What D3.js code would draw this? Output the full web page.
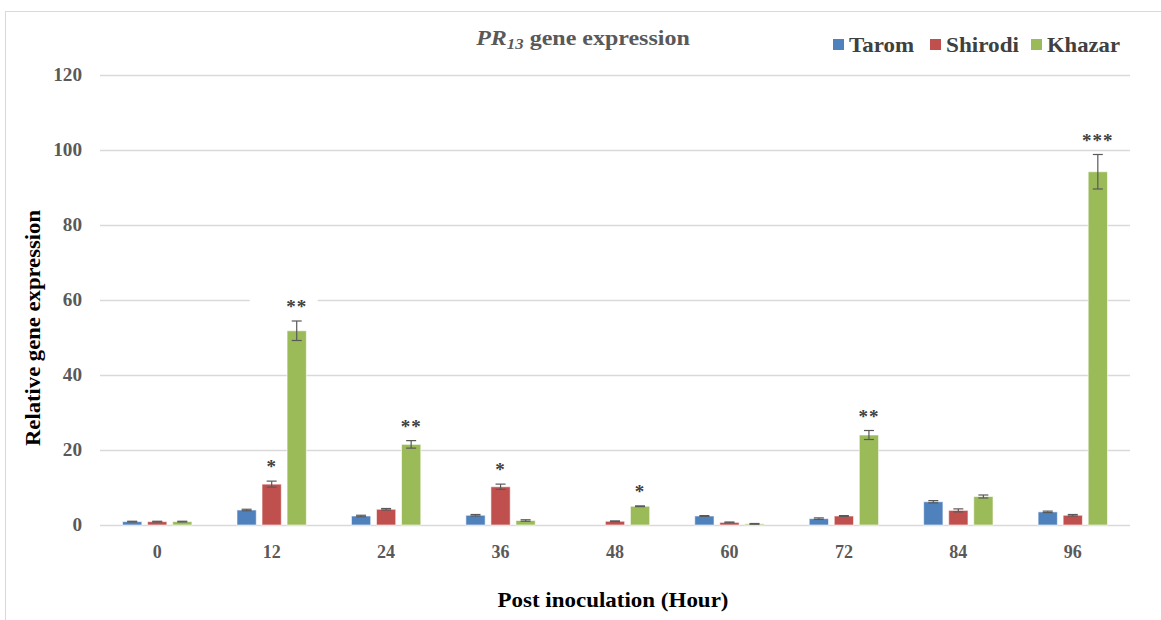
<!DOCTYPE html>
<html lang="en">
<head>
  <meta charset="UTF-8" />
  <title>PR13 gene expression</title>
  <script src="https://d3js.org/d3.v7.min.js"></script>
  <style>
    body { margin:0; padding:0; background:#fff; }
    svg { display:block; font-family:"Liberation Serif", "DejaVu Serif", serif; }
  </style>
</head>
<body>
  <svg width="1161" height="620"></svg>

  <script>
  // chart data
  const hours    = ["0", "12", "24", "36", "48", "60", "72", "84", "96"];
  const cultivars = ["Tarom", "Shirodi", "Khazar"];
  const colors   = ["#4f81bd", "#c0504d", "#9bbb59"];

  const tarom    = [0.9, 4.0, 2.4, 2.6, 0.0, 2.4, 1.7, 6.2, 3.5];
  const shirodi  = [0.9, 10.9, 4.2, 10.2, 1.0, 0.7, 2.4, 3.9, 2.6];
  const khazar   = [0.9, 51.8, 21.5, 1.2, 5.0, 0.3, 24.0, 7.6, 94.2];

  const taromErr   = [0.1, 0.2, 0.2, 0.2, 0.0, 0.1, 0.2, 0.3, 0.2];
  const shirodiErr = [0.1, 0.8, 0.2, 0.7, 0.1, 0.1, 0.1, 0.4, 0.2];
  const khazarErr  = [0.1, 2.6, 1.0, 0.2, 0.1, 0.1, 1.2, 0.4, 4.6];

  // significance marks: [hour index, series index, label]
  const stars = [[1, 1, "*"], [1, 2, "**"], [2, 2, "**"], [3, 1, "*"], [4, 2, "*"], [6, 2, "**"], [8, 2, "***"]];

  const yTicks = [0, 20, 40, 60, 80, 100, 120];

  const series = [tarom, shirodi, khazar];
  const errs   = [taromErr, shirodiErr, khazarErr];

  const svg = d3.select("svg");
  const W = 1161, H = 620;
  const M = { left: 100, right: 31, top: 75, bottom: 95 };

  // outer frame
  svg.append("rect")
    .attr("x", 5.5).attr("y", 11.5)
    .attr("width", 1200).attr("height", 700)
    .attr("fill", "#fff").attr("stroke", "#d9d9d9");

  const x = d3.scaleBand()
    .domain(hours)
    .range([M.left, W - M.right]);

  const xInner = d3.scaleBand()
    .domain(cultivars)
    .range([0, x.bandwidth()])
    .paddingInner(0.23)
    .paddingOuter(0.9);

  const y = d3.scaleLinear()
    .domain([0, 120])
    .range([H - M.bottom, M.top]);

  // gridlines
  svg.append("g")
    .selectAll("line")
    .data(yTicks)
    .join("line")
      .attr("x1", M.left).attr("x2", W - M.right)
      .attr("y1", d => Math.round(y(d)) + 0.5)
      .attr("y2", d => Math.round(y(d)) + 0.5)
      .attr("stroke", "#d9d9d9")
      .attr("stroke-width", 1.3);

  // y tick labels
  svg.append("g")
    .selectAll("text")
    .data(yTicks)
    .join("text")
      .attr("x", 82)
      .attr("y", d => y(d))
      .attr("dy", "0.35em")
      .attr("text-anchor", "end")
      .attr("font-size", 18)
      .attr("font-weight", "bold")
      .attr("fill", "#595959")
      .attr("textLength", d => String(d).length * 9.6)
      .attr("lengthAdjust", "spacingAndGlyphs")
      .text(d => d);

  // x tick labels
  svg.append("g")
    .selectAll("text")
    .data(hours)
    .join("text")
      .attr("x", d => x(d) + x.bandwidth() / 2)
      .attr("y", 558)
      .attr("text-anchor", "middle")
      .attr("font-size", 18)
      .attr("font-weight", "bold")
      .attr("fill", "#595959")
      .text(d => d);

  // white boxes behind the star labels (they hide the gridlines, as in the source)
  const starPos = d => {
    const [i, s] = d;
    const cx = x(hours[i]) + xInner(cultivars[s]) + xInner.bandwidth() / 2;
    const cy = y(series[s][i] + errs[s][i]) - 14;
    return [cx, cy];
  };
  svg.append("g")
    .selectAll("rect")
    .data(stars)
    .join("rect")
      .attr("x", d => starPos(d)[0] - 27 - (d[2].length - 1) * 20)
      .attr("width", d => 44 + (d[2].length - 1) * 24)
      .attr("y", d => starPos(d)[1] - 9)
      .attr("height", 14)
      .attr("fill", "#fff");

  // bars
  const groups = svg.append("g")
    .selectAll("g")
    .data(hours)
    .join("g")
      .attr("transform", d => `translate(${x(d)},0)`);

  groups.selectAll("rect")
    .data((d, i) => cultivars.map((c, s) => ({ c, s, v: series[s][i], e: errs[s][i] })))
    .join("rect")
      .attr("x", d => xInner(d.c))
      .attr("y", d => y(d.v))
      .attr("width", xInner.bandwidth())
      .attr("height", d => y(0) - y(d.v))
      .attr("fill", d => colors[d.s])
      .attr("stroke", "#fff")
      .attr("stroke-opacity", 0.6)
      .attr("stroke-width", 1);

  // error bars
  const eb = groups.selectAll("g.err")
    .data((d, i) => cultivars.map((c, s) => ({ c, s, v: series[s][i], e: errs[s][i] })).filter(d => d.v > 0))
    .join("g")
      .attr("class", "err")
      .attr("stroke", "#595959")
      .attr("stroke-width", 1.2);

  eb.append("line")
    .attr("x1", d => xInner(d.c) + xInner.bandwidth() / 2)
    .attr("x2", d => xInner(d.c) + xInner.bandwidth() / 2)
    .attr("y1", d => y(d.v - d.e))
    .attr("y2", d => y(d.v + d.e));
  [-1, 1].forEach(sign => {
    eb.append("line")
      .attr("x1", d => xInner(d.c) + xInner.bandwidth() / 2 - 5)
      .attr("x2", d => xInner(d.c) + xInner.bandwidth() / 2 + 5)
      .attr("y1", d => y(d.v + sign * d.e))
      .attr("y2", d => y(d.v + sign * d.e));
  });

  // significance stars
  svg.append("g")
    .selectAll("text")
    .data(stars)
    .join("text")
      .attr("x", d => starPos(d)[0])
      .attr("y", d => starPos(d)[1] + 6)
      .attr("text-anchor", "middle")
      .attr("font-size", 19)
      .attr("font-weight", "bold")
      .attr("fill", "#404040")
      .attr("letter-spacing", 1)
      .text(d => d[2]);

  // title
  const title = svg.append("text")
    .attr("transform", "translate(583,45) scale(1.2,1)")
    .attr("text-anchor", "middle")
    .attr("font-size", 20)
    .attr("font-weight", "bold")
    .attr("fill", "#595959");
  title.append("tspan").attr("font-style", "italic").text("PR");
  title.append("tspan").attr("font-style", "italic").attr("font-size", 14).attr("dy", 4).text("13");
  title.append("tspan").attr("dy", -4).text(" gene expression");

  // legend
  const legendX = [833, 930, 1031];
  const legendW = [65, 73, 73];
  const leg = svg.append("g")
    .selectAll("g")
    .data(cultivars)
    .join("g")
      .attr("transform", (d, i) => `translate(${legendX[i]},45)`);
  leg.append("rect")
    .attr("x", 0).attr("y", -6)
    .attr("width", 11).attr("height", 11)
    .attr("fill", (d, i) => colors[i]);
  leg.append("text")
    .attr("x", 16).attr("y", 7)
    .attr("font-size", 21)
    .attr("font-weight", "bold")
    .attr("fill", "#404040")
    .attr("textLength", (d, i) => legendW[i])
    .attr("lengthAdjust", "spacingAndGlyphs")
    .text(d => d);

  // axis titles
  svg.append("text")
    .attr("x", 613).attr("y", 607)
    .attr("text-anchor", "middle")
    .attr("font-size", 22)
    .attr("font-weight", "bold")
    .attr("fill", "#000")
    .attr("textLength", 231)
    .attr("lengthAdjust", "spacingAndGlyphs")
    .text("Post inoculation (Hour)");

  svg.append("text")
    .attr("transform", "translate(40,328) rotate(-90)")
    .attr("text-anchor", "middle")
    .attr("font-size", 22)
    .attr("font-weight", "bold")
    .attr("fill", "#000")
    .attr("textLength", 236)
    .attr("lengthAdjust", "spacingAndGlyphs")
    .text("Relative gene expression");
  </script>
</body>
</html>
